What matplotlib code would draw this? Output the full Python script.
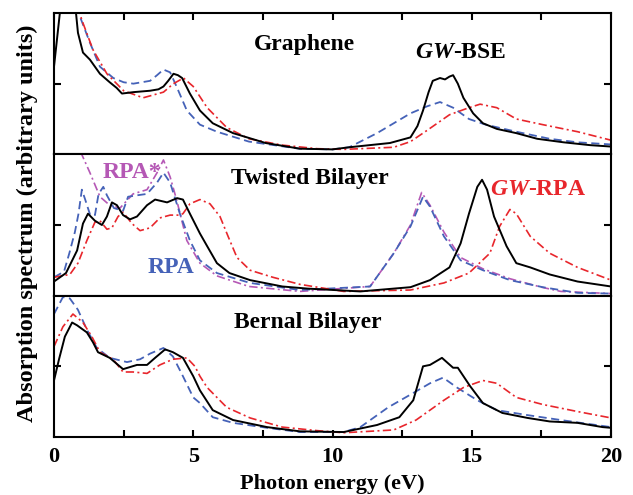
"""Absorption spectra of graphene, twisted bilayer and Bernal bilayer (three stacked panels)."""

import matplotlib

matplotlib.use("Agg")
import matplotlib.pyplot as plt

plt.rcParams["font.family"] = ["Liberation Serif", "DejaVu Serif"]
plt.rcParams["font.weight"] = "bold"
plt.rcParams["mathtext.fontset"] = "custom"
plt.rcParams["mathtext.it"] = "Liberation Serif:italic:bold"
plt.rcParams["mathtext.rm"] = "Liberation Serif:bold"

BLACK, BLUE, RED, MAGENTA = "black", "#4562b8", "#e8262c", "#b558b5"

# ---- Graphene ----
gr_black_x = [0, 0.21, 0.5, 0.79, 0.86, 1.04, 1.29, 1.65, 2.0, 2.25, 2.44, 2.85, 3.45, 3.75, 3.93,
              4.1, 4.29, 4.45, 4.6, 4.88, 5.24, 5.7, 6.43, 7.6, 8.83, 10.0, 10.6, 12.06, 12.8, 13.05,
              13.25, 13.45, 13.6, 13.86, 14.04, 14.2, 14.33, 14.5, 14.7, 15.05, 15.4, 15.9, 16.6,
              17.35, 18.3, 19.25, 20]
gr_black_y = [0.62, 1.0, 1.3, 1.0, 0.86, 0.72, 0.67, 0.57, 0.51, 0.47, 0.43, 0.44, 0.45, 0.46, 0.48,
              0.52, 0.57, 0.56, 0.54, 0.43, 0.31, 0.22, 0.15, 0.08, 0.04, 0.035, 0.05, 0.08, 0.12, 0.2,
              0.31, 0.44, 0.52, 0.54, 0.53, 0.55, 0.56, 0.50, 0.40, 0.29, 0.22, 0.18, 0.15,
              0.11, 0.085, 0.065, 0.055]
gr_blue_x = [0.85, 0.96, 1.29, 1.65, 2.13, 2.5, 2.85, 3.45, 3.7, 3.93, 4.17, 4.4, 4.77, 5.24, 5.85,
             7.0, 8.8, 10.0, 10.6, 11.6, 12.8, 13.4, 13.86, 14.33, 14.9, 15.5, 16.6, 17.8, 18.8, 20]
gr_blue_y = [1.05, 0.96, 0.79, 0.62, 0.54, 0.51, 0.50, 0.52, 0.56, 0.60, 0.58, 0.48, 0.31, 0.21, 0.16,
             0.09, 0.04, 0.035, 0.05, 0.15, 0.29, 0.34, 0.37, 0.33, 0.25, 0.21, 0.16, 0.11, 0.085, 0.07]
gr_red_x = [0.85, 1.0, 1.4, 1.9, 2.5, 3.2, 3.93, 4.29, 4.65, 5.0, 5.5, 6.2, 7.0, 8.2, 9.45, 10.4,
            12.2, 12.8, 13.4, 14.2, 14.9, 15.3, 15.9, 16.6, 17.55, 18.8, 20]
gr_red_y = [1.05, 0.95, 0.74, 0.57, 0.45, 0.40, 0.44, 0.50, 0.54, 0.48, 0.33, 0.19, 0.11, 0.065, 0.04,
            0.035, 0.05, 0.09, 0.17, 0.28, 0.33, 0.355, 0.33, 0.25, 0.21, 0.16, 0.10]

# ---- Twisted bilayer ----
tw_black_x = [0, 0.43, 0.83, 1.04, 1.22, 1.47, 1.72, 1.9, 2.08, 2.26, 2.48, 2.73, 2.98, 3.34, 3.63,
              4.06, 4.42, 4.63, 4.88, 5.24, 5.5, 5.85, 6.3, 7.04, 8.2, 9.1, 11.0, 12.8, 13.5, 14.2,
              14.6, 14.9, 15.2, 15.37, 15.55, 15.8, 16.25, 16.6, 17.1, 17.8, 18.8, 20]
tw_black_y = [0.10, 0.16, 0.32, 0.51, 0.58, 0.53, 0.50, 0.56, 0.66, 0.64, 0.57, 0.54, 0.56, 0.64, 0.68,
              0.66, 0.69, 0.68, 0.58, 0.44, 0.35, 0.23, 0.16, 0.11, 0.065, 0.05, 0.03, 0.06, 0.11, 0.20,
              0.37, 0.58, 0.77, 0.82, 0.75, 0.56, 0.35, 0.23, 0.20, 0.15, 0.10, 0.065]
tw_blue_x = [0, 0.36, 0.55, 0.75, 0.88, 1.0, 1.12, 1.3, 1.47, 1.6, 1.77, 1.9, 2.15, 2.48, 2.66, 2.98,
             3.34, 3.7, 3.93, 4.17, 4.52, 4.88, 5.24, 5.85, 7.04, 8.83, 11.35, 12.2, 12.8, 13.25,
             13.5, 14.0, 14.6, 15.4, 16.37, 17.55, 18.8, 20]
tw_blue_y = [0.13, 0.17, 0.30, 0.45, 0.58, 0.75, 0.68, 0.57, 0.57, 0.72, 0.77, 0.71, 0.62, 0.60, 0.70,
             0.71, 0.72, 0.80, 0.87, 0.80, 0.58, 0.39, 0.25, 0.16, 0.09, 0.04, 0.065, 0.30, 0.49, 0.70,
             0.63, 0.42, 0.25, 0.18, 0.11, 0.06, 0.02, 0.015]
tw_red_x = [0, 0.57, 0.86, 1.18, 1.47, 1.65, 1.9, 2.08, 2.3, 2.48, 2.8, 3.09, 3.45, 3.8, 4.17, 4.52,
            4.63, 4.88, 5.24, 5.6, 5.96, 6.25, 6.57, 7.04, 7.86, 8.83, 10.4, 12.8, 14.0, 14.9, 15.65,
            16.0, 16.37, 16.6, 17.1, 17.8, 18.8, 20]
tw_red_y = [0.13, 0.15, 0.23, 0.39, 0.52, 0.53, 0.47, 0.48, 0.56, 0.59, 0.51, 0.46, 0.48, 0.55, 0.57,
            0.57, 0.58, 0.65, 0.68, 0.65, 0.56, 0.42, 0.27, 0.18, 0.13, 0.08, 0.03, 0.04, 0.09, 0.16,
            0.30, 0.49, 0.61, 0.58, 0.42, 0.30, 0.20, 0.11]
tw_mag_x = [0.95, 1.29, 1.65, 2.0, 2.37, 2.84, 3.34, 3.7, 3.93, 4.17, 4.4, 4.77, 5.24, 5.85, 7.0, 8.83,
            11.35, 12.2, 12.8, 13.2, 13.5, 14.0, 14.6, 15.4, 16.37, 17.5, 18.2, 20]
tw_mag_y = [1.02, 0.87, 0.70, 0.64, 0.62, 0.72, 0.75, 0.87, 0.96, 0.84, 0.68, 0.39, 0.23, 0.14, 0.065,
            0.03, 0.065, 0.30, 0.50, 0.73, 0.64, 0.45, 0.27, 0.19, 0.12, 0.06, 0.03, 0.015]

# ---- Bernal bilayer ----
be_black_x = [0, 0.18, 0.39, 0.65, 0.83, 1.18, 1.4, 1.58, 2.0, 2.48, 2.98, 3.34, 3.63, 3.99, 4.27,
              4.63, 5.0, 5.24, 5.7, 6.43, 7.65, 8.83, 10.4, 11.6, 12.4, 12.9, 13.25, 13.5, 13.93,
              14.33, 14.5, 14.94, 15.4, 16.1, 17.0, 17.8, 18.8, 19.7, 20]
be_black_y = [0.40, 0.55, 0.71, 0.81, 0.79, 0.74, 0.67, 0.60, 0.56, 0.48, 0.51, 0.51, 0.56, 0.62, 0.60,
              0.56, 0.43, 0.33, 0.19, 0.12, 0.07, 0.04, 0.035, 0.085, 0.14, 0.26, 0.50, 0.51, 0.56,
              0.49, 0.49, 0.36, 0.24, 0.17, 0.135, 0.11, 0.10, 0.07, 0.065]
be_blue_x = [0, 0.32, 0.57, 0.86, 1.18, 1.54, 2.0, 2.62, 3.09, 3.45, 3.93, 4.27, 4.63, 5.0, 5.24, 5.7,
             6.43, 7.65, 8.83, 10.4, 11.0, 12.0, 12.8, 13.5, 13.97, 14.47, 15.2, 15.9, 17.0, 18.2, 20]
be_blue_y = [0.87, 0.99, 0.98, 0.90, 0.76, 0.63, 0.56, 0.53, 0.55, 0.59, 0.63, 0.57, 0.43, 0.28, 0.24,
             0.14, 0.10, 0.065, 0.035, 0.035, 0.07, 0.21, 0.30, 0.38, 0.42, 0.35, 0.26, 0.19, 0.155,
             0.12, 0.07]
be_red_x = [0, 0.32, 0.68, 1.04, 1.36, 1.65, 2.12, 2.48, 2.84, 3.34, 3.8, 4.27, 4.77, 5.06, 5.24, 5.5,
            6.2, 7.04, 8.2, 9.45, 10.4, 12.2, 13.0, 14.0, 14.7, 15.4, 15.9, 16.6, 17.55, 18.8, 20]
be_red_y = [0.64, 0.78, 0.87, 0.81, 0.71, 0.60, 0.55, 0.46, 0.46, 0.45, 0.51, 0.55, 0.56, 0.50, 0.43,
            0.35, 0.21, 0.135, 0.07, 0.045, 0.03, 0.05, 0.12, 0.26, 0.35, 0.40, 0.38, 0.28, 0.23,
            0.18, 0.135]

x_ticks = [0, 5, 10, 15, 20]
x_minor = [2.5, 7.5, 12.5, 17.5]

fig = plt.figure(figsize=(6.33, 4.95), dpi=100)
L, R, B, T = 54 / 633, 611 / 633, 1 - 437 / 495, 1 - 13 / 495
h = (T - B) / 3
axes = [fig.add_axes([L, B + (2 - i) * h, R - L, h]) for i in range(3)]

dashed = dict(color=BLUE, lw=1.3, dashes=(4.5, 2.5))
dashdot = dict(color=RED, lw=1.2, dashes=(5, 2, 1.2, 2))
solid = dict(color=BLACK, lw=1.4)

axes[0].plot(gr_blue_x, gr_blue_y, **dashed)
axes[0].plot(gr_red_x, gr_red_y, **dashdot)
axes[0].plot(gr_black_x, gr_black_y, **solid)

axes[1].plot(tw_mag_x, tw_mag_y, color=MAGENTA, lw=1.2, dashes=(5, 2, 1.2, 2))
axes[1].plot(tw_blue_x, tw_blue_y, **dashed)
axes[1].plot(tw_red_x, tw_red_y, **dashdot)
axes[1].plot(tw_black_x, tw_black_y, **solid)

axes[2].plot(be_blue_x, be_blue_y, **dashed)
axes[2].plot(be_red_x, be_red_y, **dashdot)
axes[2].plot(be_black_x, be_black_y, **solid)

for i, ax in enumerate(axes):
    ax.set_xlim(0, 20)
    ax.set_ylim(0, 1)
    for s in ax.spines.values():
        s.set_linewidth(1.5)
    ax.set_yticks([0.5])
    ax.set_yticklabels([])
    ax.tick_params(axis="y", which="both", direction="in", left=True, right=True,
                   length=5, width=1.5)
    ax.set_xticks(x_ticks)
    ax.set_xticks(x_minor, minor=True)
    ax.tick_params(axis="x", which="both", direction="in", length=5, width=1.5,
                   top=(i == 0), bottom=(i == 2), labelsize=16, pad=7)
    if i < 2:
        ax.tick_params(axis="x", labelbottom=False)

txt = dict(fontsize=17, fontweight="bold", ha="center", va="center")
axes[0].text(9.0, 0.78, "Graphene", **txt)
axes[0].text(14.6, 0.72, r"$GW$-BSE", **txt)
axes[1].text(9.2, 0.83, "Twisted Bilayer", **txt)
axes[1].text(2.8, 0.87, "RPA*", color=MAGENTA, **txt)
axes[1].text(4.2, 0.20, "RPA", color=BLUE, **txt)
axes[1].text(19.1, 0.75, r"$GW$-RPA", color=RED, **dict(txt, ha="right"))
axes[2].text(9.1, 0.81, "Bernal Bilayer", **txt)

fig.text(332 / 633, 5.5 / 495, "Photon energy (eV)", fontsize=16, fontweight="bold",
         ha="center", va="baseline")
fig.text(27 / 633, 1 - 223 / 495, "Absorption spectrum (arbitrary units)", fontsize=17.5,
         fontweight="bold", rotation=90, ha="center", va="center")

fig.savefig("out.png", dpi=100)
